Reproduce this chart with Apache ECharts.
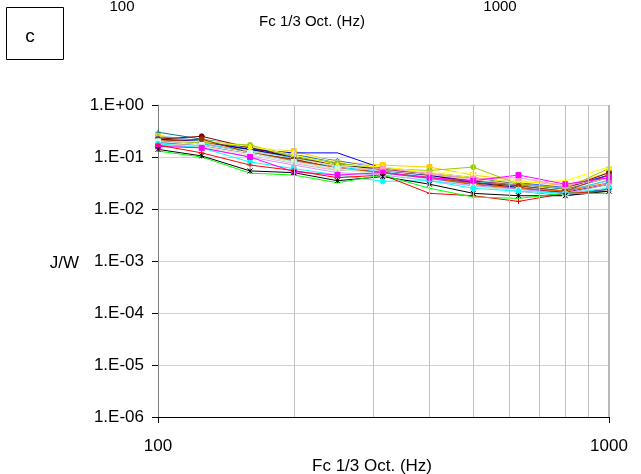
<!DOCTYPE html>
<html>
<head>
<meta charset="utf-8">
<script src="https://cdn.jsdelivr.net/npm/echarts@6/dist/echarts.min.js"></script>
<style>
  html, body { margin: 0; padding: 0; background: #fff; }
  #chart { width: 641px; height: 474px; }
</style>
</head>
<body>
<div id="chart"></div>
<script>
// 1/3 octave centre frequencies (Hz)
var freqs = [100, 125, 160, 200, 250, 315, 400, 500, 630, 800, 1000]
var minorGrid = [200, 300, 400, 500, 600, 700, 800, 900]
var yTicks = [1, 0.1, 0.01, 0.001, 0.0001, 0.00001, 0.000001]

// J/W values per measurement position
var sNavy = [0.21, 0.19, 0.14, 0.1, 0.075, 0.055, 0.045, 0.032, 0.026, 0.02, 0.024]
var sMagenta = [0.16, 0.15, 0.1, 0.052, 0.045, 0.05, 0.04, 0.035, 0.045, 0.03, 0.04]
var sYellow = [0.19, 0.2, 0.16, 0.11, 0.07, 0.065, 0.05, 0.04, 0.032, 0.035, 0.065]
var sCyan = [0.18, 0.15, 0.08, 0.06, 0.045, 0.034, 0.035, 0.025, 0.022, 0.02, 0.025]
var sPurple = [0.2, 0.17, 0.12, 0.09, 0.06, 0.05, 0.04, 0.03, 0.025, 0.021, 0.03]
var sMaroon = [0.22, 0.25, 0.15, 0.1, 0.07, 0.06, 0.045, 0.035, 0.03, 0.025, 0.05]
var sTeal = [0.3, 0.22, 0.16, 0.11, 0.08, 0.055, 0.045, 0.04, 0.03, 0.024, 0.04]
var sBlue = [0.22, 0.2, 0.14, 0.12, 0.12, 0.06, 0.045, 0.035, 0.03, 0.025, 0.045]
var sSky = [0.25, 0.18, 0.13, 0.085, 0.065, 0.05, 0.038, 0.03, 0.024, 0.02, 0.03]
var sPaleCyan = [0.2, 0.17, 0.12, 0.08, 0.06, 0.047, 0.037, 0.028, 0.023, 0.019, 0.026]
var sPaleGreen = [0.18, 0.16, 0.11, 0.078, 0.058, 0.046, 0.036, 0.027, 0.022, 0.019, 0.028]
var sPaleYellow = [0.23, 0.21, 0.17, 0.12, 0.08, 0.06, 0.05, 0.05, 0.035, 0.033, 0.055]
var sPaleBlue = [0.26, 0.2, 0.13, 0.1, 0.07, 0.052, 0.042, 0.033, 0.027, 0.022, 0.035]
var sRose = [0.19, 0.16, 0.11, 0.075, 0.055, 0.06, 0.048, 0.038, 0.04, 0.028, 0.04]
var sLavender = [0.17, 0.15, 0.1, 0.07, 0.05, 0.045, 0.035, 0.028, 0.024, 0.02, 0.03]
var sTan = [0.21, 0.19, 0.13, 0.09, 0.068, 0.055, 0.046, 0.036, 0.03, 0.025, 0.04]
var sRoyal = [0.24, 0.21, 0.15, 0.11, 0.085, 0.06, 0.05, 0.04, 0.032, 0.026, 0.045]
var sAqua = [0.23, 0.19, 0.14, 0.095, 0.07, 0.055, 0.044, 0.034, 0.028, 0.022, 0.036]
var sLime = [0.2, 0.19, 0.17, 0.1, 0.075, 0.06, 0.055, 0.064, 0.03, 0.025, 0.06]
var sGold = [0.25, 0.2, 0.15, 0.13, 0.08, 0.07, 0.064, 0.045, 0.035, 0.028, 0.05]
var sOrange = [0.18, 0.16, 0.12, 0.085, 0.06, 0.05, 0.04, 0.03, 0.025, 0.022, 0.032]
var sSlate = [0.19, 0.17, 0.12, 0.08, 0.058, 0.048, 0.038, 0.028, 0.022, 0.018, 0.024]
var sGreen = [0.13, 0.1, 0.049, 0.045, 0.032, 0.045, 0.025, 0.017, 0.016, 0.02, 0.02]
var sBlack = [0.14, 0.105, 0.054, 0.05, 0.035, 0.042, 0.03, 0.02, 0.018, 0.018, 0.022]
var sRed = [0.17, 0.12, 0.07, 0.055, 0.04, 0.045, 0.02, 0.018, 0.014, 0.02, 0.022]
var sBrown = [0.2, 0.22, 0.12, 0.09, 0.06, 0.05, 0.04, 0.032, 0.028, 0.022, 0.045]

var X = 'path://M0,0L10,10M10,0L0,10'
var PLUS = 'path://M5,0L5,10M0,5L10,5'
var STAR = 'path://M0,0L10,10M10,0L0,10M5,0L5,10'

var curves = [
  [sTeal, '#008080', PLUS],
  [sPaleBlue, '#99CCFF', 'diamond'],
  [sSky, '#00CCFF', 'rect'],
  [sGold, '#FFCC00', 'rect'],
  [sRoyal, '#3366FF', 'triangle'],
  [sAqua, '#33CCCC', 'circle'],
  [sPaleYellow, '#FFFF99', 'triangle'],
  [sBlue, '#0000FF', 'none'],
  [sMaroon, '#800000', 'circle'],
  [sNavy, '#000080', 'diamond'],
  [sTan, '#FFCC99', 'diamond'],
  [sLime, '#99CC00', 'circle'],
  [sYellow, '#FFFF00', 'triangle'],
  [sPurple, '#800080', STAR],
  [sBrown, '#993300', 'circle'],
  [sRose, '#FF99CC', 'rect'],
  [sOrange, '#FF6600', 'triangle'],
  [sSlate, '#666699', 'diamond'],
  [sPaleCyan, '#CCFFFF', 'rect'],
  [sPaleGreen, '#CCFFCC', 'circle'],
  [sLavender, '#CC99FF', 'triangle'],
  [sCyan, '#00FFFF', 'circle'],
  [sMagenta, '#FF00FF', 'rect'],
  [sRed, '#FF0000', PLUS],
  [sBlack, '#000000', STAR],
  [sGreen, '#00FF00', 'none']
]

var series = curves.map(function(c) {
  return {
    type: 'line',
    data: freqs.map(function(f, i) { return [f, c[0][i]] }),
    symbol: c[2],
    symbolSize: 5,
    showSymbol: c[2] !== 'none',
    lineStyle: { color: c[1], width: 1 },
    itemStyle: { color: c[2].indexOf('path') === 0 ? 'transparent' : c[1], borderColor: c[1], borderWidth: 1 },
    animation: false,
    silent: true
  }
})

// minor vertical gridlines at 200..900 Hz, heavier line at the right edge
series.unshift({
  type: 'line',
  data: [],
  animation: false,
  markLine: {
    silent: true,
    symbol: 'none',
    label: { show: false },
    lineStyle: { color: '#c0c0c0', type: 'solid', width: 1 },
    data: minorGrid.map(function(v) { return { xAxis: v } })
      .concat([{ xAxis: 1000, lineStyle: { color: '#b8b8b8', width: 2 } }])
  }
})

function sci(v) {
  var e = Math.round(Math.log10(v))
  var s = e < 0 ? '-' : '+'
  var a = Math.abs(e)
  return '1.E' + s + (a < 10 ? '0' + a : a)
}

var chart = echarts.init(document.getElementById('chart'))
chart.setOption({
  backgroundColor: '#fff',
  textStyle: { fontFamily: 'Liberation Sans, Arial, sans-serif' },
  grid: { left: 158, right: 32, top: 105, bottom: 57 },
  xAxis: {
    type: 'log',
    logBase: 10,
    min: 100,
    max: 1000,
    axisLine: { lineStyle: { color: '#000', width: 1 } },
    axisTick: { show: true, length: 6, lineStyle: { color: '#000' } },
    axisLabel: { color: '#000', fontSize: 17, margin: 21, formatter: function(v) { return String(v) } },
    splitLine: { show: true, lineStyle: { color: '#c0c0c0', width: 1 } }
  },
  yAxis: {
    type: 'log',
    logBase: 10,
    min: yTicks[yTicks.length - 1],
    max: yTicks[0],
    axisLine: { show: true, lineStyle: { color: '#808080', width: 1 } },
    axisTick: { show: true, length: 6, lineStyle: { color: '#000' } },
    axisLabel: { color: '#000', fontSize: 17, margin: 14, formatter: sci },
    splitLine: { show: true, lineStyle: { color: '#d0d0d0', width: 1 } }
  },
  graphic: [
    { type: 'rect', shape: { x: 6.5, y: 7.5, width: 57, height: 52 }, style: { fill: '#fff', stroke: '#000', lineWidth: 1 } },
    { type: 'text', x: 30, y: 37, style: { text: 'c', fill: '#000', font: '19px Liberation Sans', textAlign: 'center', textVerticalAlign: 'middle' } },
    { type: 'text', x: 122, y: 14, style: { text: '100', fill: '#000', font: '15px Liberation Sans', textAlign: 'center', textVerticalAlign: 'bottom' } },
    { type: 'text', x: 500, y: 14, style: { text: '1000', fill: '#000', font: '15px Liberation Sans', textAlign: 'center', textVerticalAlign: 'bottom' } },
    { type: 'text', x: 312, y: 22, style: { text: 'Fc 1/3 Oct. (Hz)', fill: '#000', font: '15px Liberation Sans', textAlign: 'center', textVerticalAlign: 'middle' } },
    { type: 'text', x: 79, y: 263, style: { text: 'J/W', fill: '#000', font: '17px Liberation Sans', textAlign: 'right', textVerticalAlign: 'middle' } },
    { type: 'text', x: 372, y: 466, style: { text: 'Fc 1/3 Oct. (Hz)', fill: '#000', font: '17px Liberation Sans', textAlign: 'center', textVerticalAlign: 'middle' } }
  ],
  series: series
})
</script>
</body>
</html>
